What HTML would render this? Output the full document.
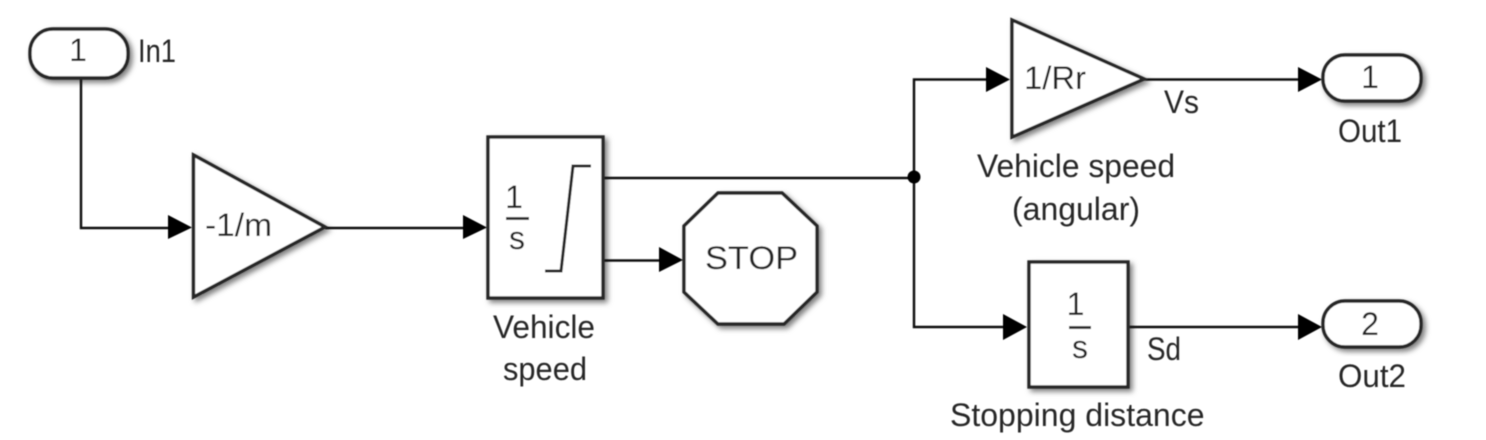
<!DOCTYPE html>
<html>
<head>
<meta charset="utf-8">
<style>
html,body{margin:0;padding:0;background:#fff;width:1486px;height:440px;overflow:hidden}
svg{display:block}
text{font-family:"Liberation Sans",Arial,sans-serif;font-size:32px;fill:#262626}
.b{fill:#fff;stroke:#262626;stroke-width:3.4;filter:url(#sh);stroke-linejoin:miter}
.l{fill:none;stroke:#111;stroke-width:2.4}
.a{fill:#000}
</style>
</head>
<body>
<svg width="1486" height="440" viewBox="0 0 1486 440" xmlns="http://www.w3.org/2000/svg">
<defs>
<filter id="sh" x="-15%" y="-15%" width="135%" height="135%">
<feDropShadow dx="3" dy="3" stdDeviation="2.6" flood-color="#000" flood-opacity="0.5"/>
</filter>
<filter id="soft" filterUnits="userSpaceOnUse" x="0" y="0" width="1486" height="440"><feGaussianBlur stdDeviation="0.45"/></filter>
</defs>
<rect width="1486" height="440" fill="#fff"/>
<g filter="url(#soft)">
<!-- connectors -->
<path class="l" d="M81 78V228H170"/>
<path class="l" d="M325 228H465"/>
<path class="l" d="M603 178H914"/>
<path class="l" d="M603 260.500H661"/>
<path class="l" d="M988 79.500H914V327H1005"/>
<path class="l" d="M1144 79.500H1299"/>
<path class="l" d="M1128 327H1299"/>
<circle cx="914" cy="177" r="6.500" fill="#000"/>
<!-- arrowheads -->
<polygon class="a" points="168,215 192,227.500 168,239"/>
<polygon class="a" points="463,215 487,227.500 463,239"/>
<polygon class="a" points="659,247 683,260 659,272"/>
<polygon class="a" points="986,67 1010,79.500 986,92"/>
<polygon class="a" points="1003,314 1027,327 1003,340"/>
<polygon class="a" points="1298,67 1322,79.500 1298,92"/>
<polygon class="a" points="1298,314 1322,327 1298,340"/>
<!-- blocks -->
<rect class="b" x="30" y="29" width="98" height="49" rx="23" ry="23"/>
<polygon class="b" points="193.500,155 325,227 193.500,297"/>
<rect class="b" x="488" y="137" width="115" height="161"/>
<polygon class="b" points="718,193 782,193 817,226 817,292 784,324 718,324 684,292 684,226"/>
<polygon class="b" points="1012,20 1144,79 1012,137"/>
<rect class="b" x="1029" y="262" width="99" height="125"/>
<rect class="b" x="1323" y="55" width="98" height="46" rx="22" ry="22"/>
<rect class="b" x="1323" y="301" width="98" height="46" rx="22" ry="22"/>
<!-- saturation ramp and fraction bars -->
<path d="M545 271H561L573 166H591" fill="none" stroke="#262626" stroke-width="3"/>
<path d="M506 218.500H529" stroke="#333" stroke-width="3"/>
<path d="M1069 327.500H1091" stroke="#333" stroke-width="3"/>
<!-- labels -->
<text x="78" y="61" text-anchor="middle">1</text>
<text x="138" y="62" textLength="38" lengthAdjust="spacingAndGlyphs">In1</text>
<text x="205" y="236" textLength="67" lengthAdjust="spacingAndGlyphs">-1/m</text>
<text x="514" y="208" text-anchor="middle">1</text>
<text x="517" y="249" text-anchor="middle">s</text>
<text x="705" y="269" textLength="93" lengthAdjust="spacingAndGlyphs">STOP</text>
<text x="493" y="338" textLength="102" lengthAdjust="spacingAndGlyphs">Vehicle</text>
<text x="503" y="380" textLength="84" lengthAdjust="spacingAndGlyphs">speed</text>
<text x="1024" y="89" textLength="62" lengthAdjust="spacingAndGlyphs">1/Rr</text>
<text x="1164" y="113" textLength="35" lengthAdjust="spacingAndGlyphs">Vs</text>
<text x="1370" y="88" text-anchor="middle">1</text>
<text x="1338" y="142" textLength="64" lengthAdjust="spacingAndGlyphs">Out1</text>
<text x="977" y="177" textLength="198" lengthAdjust="spacingAndGlyphs">Vehicle speed</text>
<text x="1012" y="220" textLength="128" lengthAdjust="spacingAndGlyphs">(angular)</text>
<text x="1075.500" y="315" text-anchor="middle">1</text>
<text x="1080" y="358" text-anchor="middle">s</text>
<text x="1147" y="360" textLength="34" lengthAdjust="spacingAndGlyphs">Sd</text>
<text x="1370" y="335" text-anchor="middle">2</text>
<text x="1338" y="387" textLength="68" lengthAdjust="spacingAndGlyphs">Out2</text>
<text x="950" y="426" textLength="254.500" lengthAdjust="spacingAndGlyphs">Stopping distance</text>
</g>
</svg>
</body>
</html>
